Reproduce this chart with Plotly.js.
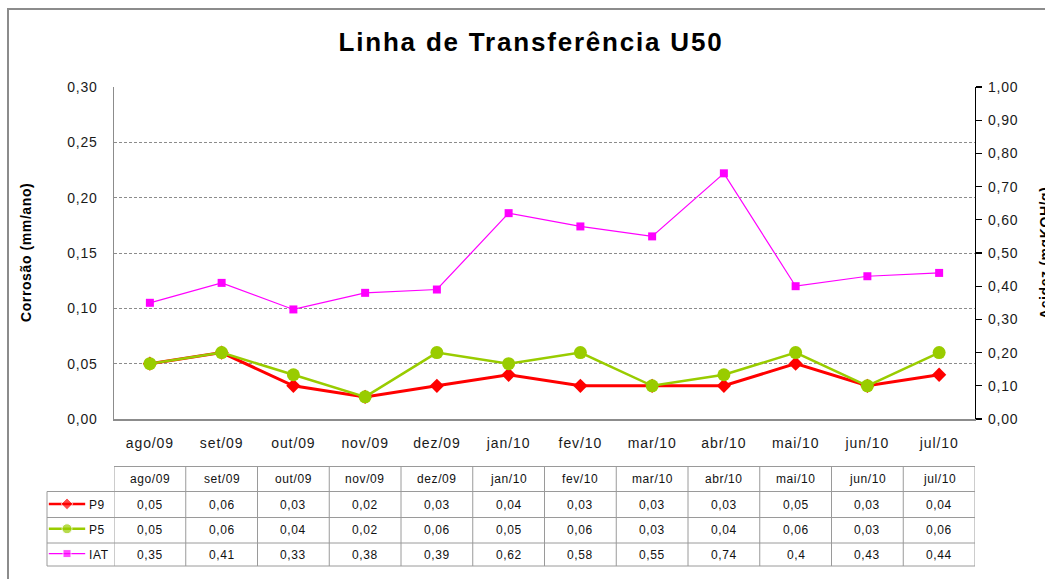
<!DOCTYPE html>
<html>
<head>
<meta charset="utf-8">
<script src="https://cdn.plot.ly/plotly-3.0.1.min.js"></script>
<style>
html,body{margin:0;padding:0;background:#fff;}
#chart{width:1045px;height:579px;}
.gtitle{letter-spacing:1.8px;}
.xtick text{letter-spacing:0.9px;}
.ytick text,.y2tick text{letter-spacing:0.8px;}
.annotation-text{letter-spacing:0.6px;}
</style>
</head>
<body>
<div id="chart"></div>
<script>
// ---- data ----
var months = ["ago/09","set/09","out/09","nov/09","dez/09","jan/10","fev/10","mar/10","abr/10","mai/10","jun/10","jul/10"];
var p9  = [0.05,0.06,0.03,0.02,0.03,0.04,0.03,0.03,0.03,0.05,0.03,0.04];
var p5  = [0.05,0.06,0.04,0.02,0.06,0.05,0.06,0.03,0.04,0.06,0.03,0.06];
var iat = [0.35,0.41,0.33,0.38,0.39,0.62,0.58,0.55,0.74,0.4,0.43,0.44];
var seriesNames = ["P9","P5","IAT"];
var leftTicks = [0,0.05,0.10,0.15,0.20,0.25,0.30];
var rightTicks = [0,0.1,0.2,0.3,0.4,0.5,0.6,0.7,0.8,0.9,1.0];

// ---- geometry (paper) ----
var W = 1045, H = 579;
function px(x){return x/W;}
function py(y){return 1 - y/H;}
var plotL = 114, plotR = 975, plotT = 87, plotB = 419;
var tblTop = 466.5, rowEdges = [491.5, 517.5, 543, 566];
var tblLeft = 47;

var colors = {P9:"#FF0000", P5:"#99CC00", IAT:"#FF00FF"};
var styles = [
  {name:"P9", data:p9, color:colors.P9, width:3, symbol:"diamond", size:11, yaxis:"y"},
  {name:"P5", data:p5, color:colors.P5, width:2.5, symbol:"circle", size:13, yaxis:"y"},
  {name:"IAT", data:iat, color:colors.IAT, width:1.2, symbol:"square", size:8, yaxis:"y2"}
];

function fmt(v){return String(v).replace(".", ",");}

var traces = [];
[2,0,1].forEach(function(i){
  var s = styles[i];
  traces.push({
    type:"scatter", mode:"lines+markers", name:s.name,
    x:months, y:s.data, yaxis:s.yaxis, xaxis:"x",
    line:{color:s.color, width:s.width},
    marker:{color:s.color, symbol:s.symbol, size:s.size},
    cliponaxis:false, hoverinfo:"skip"
  });
});

// legend keys inside the table (helper axes)
styles.forEach(function(s, r){
  traces.push({
    type:"scatter", mode:"lines+markers", xaxis:"x2", yaxis:"y4",
    x:[0.05,0.55,1.05], y:[r,r,r],
    line:{color:s.color, width:s.name==="IAT"?1.2:2.5},
    marker:{color:s.color, symbol:s.symbol, size:[0, s.name==="IAT"?8:(s.name==="P9"?9:10), 0]},
    showlegend:false, hoverinfo:"skip", cliponaxis:false
  });
});

var shapes = [];
var annotations = [];
var lineCol = "#9a9a9a";

// outer frame
shapes.push({type:"path", xref:"paper", yref:"paper",
  path:"M "+px(8)+" "+py(579)+" L "+px(8)+" "+py(9)+" L "+px(1045)+" "+py(9),
  line:{color:"#8c8c8c", width:2}});

// table horizontal lines
var yTopP = py(tblTop);
shapes.push({type:"line", xref:"x", yref:"paper", x0:-0.5, x1:months.length-0.5, y0:yTopP, y1:yTopP, line:{color:lineCol,width:1}});
rowEdges.forEach(function(y){
  shapes.push({type:"line", xref:"paper", yref:"paper", x0:px(tblLeft), x1:px(plotR), y0:py(y), y1:py(y), line:{color:lineCol,width:1}});
});
for (var i=0;i<=months.length;i++){
  shapes.push({type:"line", xref:"x", yref:"paper", x0:i-0.5, x1:i-0.5, y0:yTopP, y1:py(rowEdges[3]), line:{color:lineCol,width:1}});
}
shapes.push({type:"line", xref:"paper", yref:"paper", x0:px(tblLeft), x1:px(tblLeft), y0:py(rowEdges[0]), y1:py(rowEdges[3]), line:{color:lineCol,width:1}});

// table text
var tfont = {family:"Liberation Sans, Arial, sans-serif", size:12, color:"#111"};
var headerMid = (tblTop + rowEdges[0])/2;
var rowMids = [(rowEdges[0]+rowEdges[1])/2, (rowEdges[1]+rowEdges[2])/2, (rowEdges[2]+rowEdges[3])/2];
months.forEach(function(m, c){
  annotations.push({xref:"x", yref:"paper", x:c, y:py(headerMid), text:m, showarrow:false, font:tfont, xanchor:"center", yanchor:"middle"});
  styles.forEach(function(s, r){
    annotations.push({xref:"x", yref:"paper", x:c, y:py(rowMids[r]), text:fmt(s.data[c]), showarrow:false, font:tfont, xanchor:"center", yanchor:"middle"});
  });
});
seriesNames.forEach(function(n, r){
  annotations.push({xref:"paper", yref:"paper", x:px(87), y:py(rowMids[r]), text:n, showarrow:false, font:tfont, xanchor:"left", yanchor:"middle"});
});

// axis titles
var titleFont = {family:"Liberation Sans, Arial, sans-serif", size:14, color:"#000"};
annotations.push({xref:"paper", yref:"paper", x:px(26), y:py(253), text:"<b>Corrosão (mm/ano)</b>", textangle:-90, showarrow:false, font:titleFont, xanchor:"center", yanchor:"middle"});
annotations.push({xref:"paper", yref:"paper", x:px(1045), y:py(253), text:"<b>Acidez (mgKOH/g)</b>", textangle:-90, showarrow:false, font:titleFont, xanchor:"center", yanchor:"middle"});

var tickFont = {family:"Liberation Sans, Arial, sans-serif", size:14, color:"#1a1a1a"};

var layout = {
  width:W, height:H,
  margin:{l:0,r:0,t:0,b:0},
  paper_bgcolor:"#fff", plot_bgcolor:"#fff",
  separators:",.",
  showlegend:false,
  title:{text:"<b>Linha de Transferência U50</b>", x:px(531), xanchor:"center", xref:"paper", y:py(42), yref:"paper", yanchor:"middle",
    font:{family:"Liberation Sans, Arial, sans-serif", size:26, color:"#000"}},
  xaxis:{domain:[px(plotL), px(plotR)], type:"category", range:[-0.5, months.length-0.5],
    showgrid:false, zeroline:false, showline:true, linecolor:"#8c8c8c", linewidth:1.5,
    ticks:"", tickfont:tickFont, ticklabelstandoff:11, anchor:"y", fixedrange:true},
  yaxis:{domain:[py(plotB), py(plotT)], range:[0,0.30], tickvals:leftTicks, tickformat:".2f",
    showgrid:true, gridcolor:"#8c8c8c", griddash:"3px,2px", gridwidth:1,
    zeroline:false, showline:true, linecolor:"#8c8c8c", linewidth:1.5,
    ticks:"", tickfont:tickFont, ticklabelstandoff:12, anchor:"x"},
  yaxis2:{domain:[py(plotB), py(plotT)], range:[0,1.0], tickvals:rightTicks, tickformat:".2f",
    overlaying:"y", side:"right", anchor:"x", showgrid:false, zeroline:false,
    showline:true, linecolor:"#000", linewidth:1.2, ticks:"outside", ticklen:6, tickcolor:"#000", tickwidth:1.2,
    tickfont:tickFont, ticklabelstandoff:3},
  yaxis3:{domain:[py(plotB), py(plotT)], range:[0,1.0], tickvals:rightTicks,
    overlaying:"y", side:"right", anchor:"x", showgrid:false, zeroline:false, showline:false,
    ticks:"inside", ticklen:6, tickcolor:"#000", tickwidth:1.2, showticklabels:false},
  xaxis2:{domain:[px(tblLeft), px(87)], range:[0,1.1], visible:false, anchor:"y4", fixedrange:true},
  yaxis4:{domain:[py(rowEdges[3]), py(rowEdges[0])], range:[2.5,-0.5], visible:false, anchor:"x2", fixedrange:true},
  shapes:shapes,
  annotations:annotations
};

Plotly.newPlot("chart", traces, layout, {displayModeBar:false, staticPlot:true});
</script>
</body>
</html>
